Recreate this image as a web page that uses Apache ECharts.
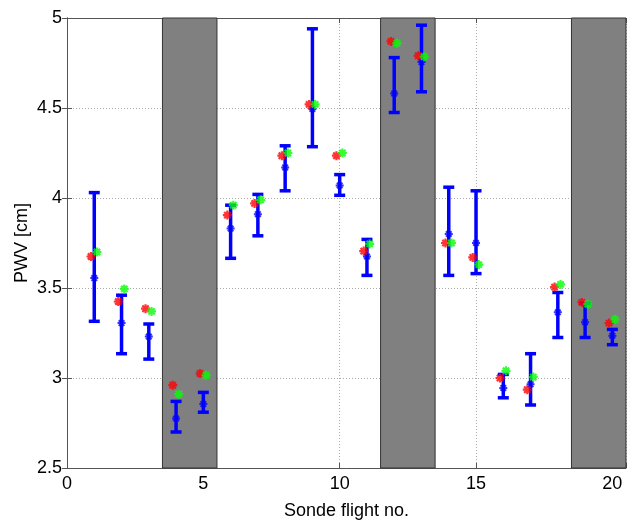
<!DOCTYPE html>
<html>
<head>
<meta charset="utf-8">
<script src="https://cdn.jsdelivr.net/npm/echarts@6/dist/echarts.min.js"></script>
<style>html,body{margin:0;padding:0;background:#fff}#c{width:638px;height:520px}</style>
</head>
<body>
<div id="c"></div>
<script>
var flights = [1,2,3,4,5,6,7,8,9,10,11,12,13,14,15,16,17,18,19,20];
var centerVals = [3.555,3.305,3.23,2.775,2.855,3.83,3.91,4.17,4.495,4.07,3.675,4.58,4.755,3.80,3.75,2.945,2.965,3.365,3.31,3.235];
var upperVals = [4.03,3.46,3.30,2.87,2.92,3.96,4.02,4.29,4.94,4.13,3.77,4.78,4.96,4.06,4.04,3.02,3.135,3.475,3.415,3.27];
var lowerVals = [3.315,3.135,3.105,2.70,2.81,3.665,3.79,4.04,4.285,4.015,3.57,4.475,4.59,3.57,3.58,2.89,2.85,3.225,3.225,3.185];
var redVals = [3.675,3.425,3.385,2.96,3.025,3.905,3.97,4.235,4.52,4.235,3.705,4.87,4.79,3.75,3.67,3.0,2.935,3.505,3.42,3.305];
var greenVals = [3.70,3.495,3.37,2.91,3.015,3.96,3.99,4.25,4.52,4.25,3.745,4.86,4.785,3.75,3.63,3.04,3.005,3.52,3.41,3.325];
var bands = [[3.5,5.5],[11.5,13.5],[18.5,20.5]];
var redOffset = -0.12, greenOffset = 0.1;

var font = 'Liberation Sans, Arial, Helvetica, sans-serif';
var star = 'path://M0,5L10,5M5,0L5,10M1.5,1.5L8.5,8.5M8.5,1.5L1.5,8.5';

var errData = flights.map(function(f,i){ return [f, lowerVals[i], upperVals[i]]; });
var chart = echarts.init(document.getElementById('c'), null, {renderer:'canvas'});
chart.setOption({
  animation:false,
  grid:{left:67,right:12,top:18,bottom:52,outerBoundsMode:'none',containLabel:false},
  xAxis:[{
    type:'value', min:0, max:20.5, interval:5,
    name:'Sonde flight no.', nameLocation:'middle', nameGap:34, nameMoveOverlap:false,
    nameTextStyle:{fontFamily:font,fontSize:18,color:'#000'},
    axisLine:{lineStyle:{color:'#555'}},
    axisTick:{inside:true,length:5,lineStyle:{color:'#555'}},
    axisLabel:{fontFamily:font,fontSize:18,color:'#000',margin:7,
      formatter:function(v){return v%5===0?String(v):'';}},
    splitLine:{show:true,lineStyle:{color:'#aaa',type:[1,2],width:1}}
  },{
    type:'value', min:0, max:20.5, interval:5, position:'top',
    axisLine:{show:true,lineStyle:{color:'#555'}},
    axisTick:{show:true,inside:true,length:5,lineStyle:{color:'#555'}},
    axisLabel:{show:false}, splitLine:{show:false}
  }],
  yAxis:[{
    type:'value', min:2.5, max:5, interval:0.5,
    name:'PWV [cm]', nameLocation:'middle', nameGap:36, nameRotate:90, nameMoveOverlap:false,
    nameTextStyle:{fontFamily:font,fontSize:18,color:'#000'},
    axisLine:{show:true,lineStyle:{color:'#555'}},
    axisTick:{show:true,inside:true,length:5,lineStyle:{color:'#555'}},
    axisLabel:{fontFamily:font,fontSize:18,color:'#000',margin:5},
    splitLine:{show:true,lineStyle:{color:'#aaa',type:[1,2],width:1}}
  },{
    type:'value', min:2.5, max:5, interval:0.5, position:'right',
    axisLine:{show:true,lineStyle:{color:'#555'}},
    axisTick:{show:true,inside:true,length:5,lineStyle:{color:'#555'}},
    axisLabel:{show:false}, splitLine:{show:false}
  }],
  series:[
    {
      type:'line', data:[], z:1, silent:true,
      markArea:{
        silent:true,
        itemStyle:{color:'#808080',borderColor:'#333',borderWidth:1},
        data:bands.map(function(b){return [{xAxis:b[0]},{xAxis:b[1]}];})
      }
    },
    {
      type:'custom', z:3, data:errData,
      renderItem:function(params, api){
        var x = api.value(0);
        var lo = api.coord([x, api.value(1)]);
        var hi = api.coord([x, api.value(2)]);
        var hw = 5.5;
        var st = {stroke:'#0000ff', lineWidth:3.5};
        return {type:'group', children:[
          {type:'line', shape:{x1:lo[0],y1:lo[1],x2:hi[0],y2:hi[1]}, style:st},
          {type:'line', shape:{x1:lo[0]-hw,y1:lo[1],x2:lo[0]+hw,y2:lo[1]}, style:st},
          {type:'line', shape:{x1:hi[0]-hw,y1:hi[1],x2:hi[0]+hw,y2:hi[1]}, style:st}
        ]};
      }
    },
    {
      type:'scatter', z:4, symbol:star, symbolSize:8,
      itemStyle:{color:'none',borderColor:'#0000ff',borderWidth:2},
      data:flights.map(function(f,i){return [f, centerVals[i]];})
    },
    {
      type:'scatter', z:5, symbol:star, symbolSize:9,
      itemStyle:{color:'none',borderColor:'#ff0000',borderWidth:2.2},
      data:flights.map(function(f,i){return [f+redOffset, redVals[i]];})
    },
    {
      type:'scatter', z:6, symbol:star, symbolSize:9,
      itemStyle:{color:'none',borderColor:'#00ff00',borderWidth:2.2},
      data:flights.map(function(f,i){return [f+greenOffset, greenVals[i]];})
    }
  ]
});
</script>
</body>
</html>
